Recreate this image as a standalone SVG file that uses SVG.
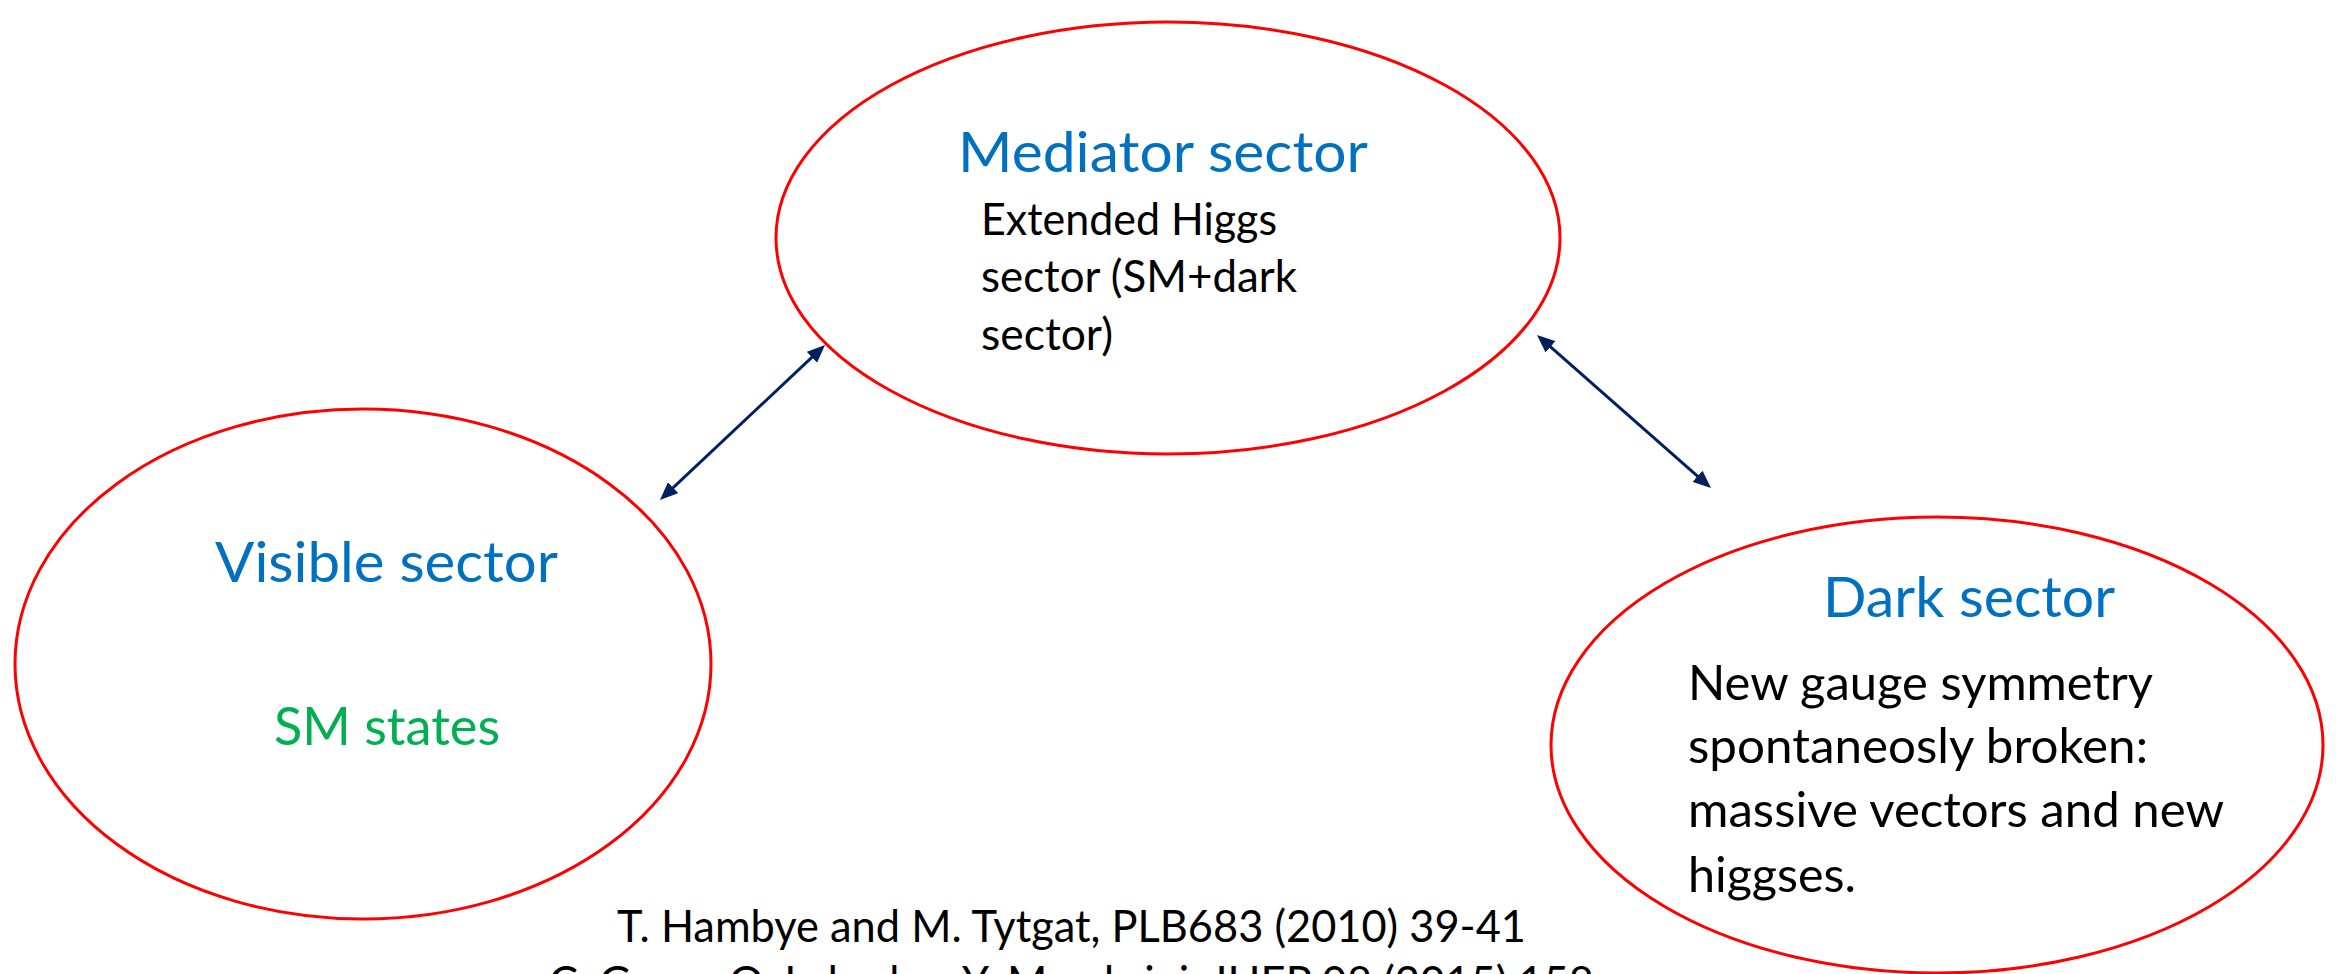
<svg xmlns="http://www.w3.org/2000/svg" width="2336" height="974" viewBox="0 0 2336 974">
  <style>
    .sector { fill: #ffffff; stroke: #ff0000; stroke-width: 3; }
    .title { font-family: "Lato", "Liberation Sans", sans-serif; fill: #0070c0; font-size: 57px; }
    .body { font-family: "Lato", "Liberation Sans", sans-serif; fill: #000000; }
    .green { font-family: "Lato", "Liberation Sans", sans-serif; fill: #00b050; font-size: 52px; }
    .ref { font-family: "Lato", "Liberation Sans", sans-serif; fill: #000000; font-size: 44px; }
    .conn { stroke: #002060; stroke-width: 3; fill: none; marker-start: url(#head); marker-end: url(#head); }
  </style>
  <defs>
    <marker id="head" viewBox="0 0 6 5" refX="2" refY="2.5" markerWidth="6" markerHeight="5" markerUnits="strokeWidth" orient="auto-start-reverse">
      <path d="M0,0 L6,2.5 L0,5 z" fill="#002060"/>
    </marker>
  </defs>
  <rect width="2336" height="974" fill="#ffffff"/>

  <g id="visible-sector">
    <ellipse class="sector" cx="363" cy="664" rx="348" ry="255"/>
    <text class="title" x="215" y="582" textLength="343" lengthAdjust="spacingAndGlyphs">Visible sector</text>
    <text class="green" x="274" y="745" textLength="226" lengthAdjust="spacingAndGlyphs">SM states</text>
  </g>

  <g id="mediator-sector">
    <ellipse class="sector" cx="1168" cy="238" rx="392" ry="216"/>
    <text class="title" x="958" y="172" textLength="410" lengthAdjust="spacingAndGlyphs">Mediator sector</text>
    <g class="body" font-size="44">
      <text x="981" y="235" textLength="296" lengthAdjust="spacingAndGlyphs">Extended Higgs</text>
      <text x="981" y="292" textLength="316" lengthAdjust="spacingAndGlyphs">sector (SM+dark</text>
      <text x="981" y="350" textLength="132" lengthAdjust="spacingAndGlyphs">sector)</text>
    </g>
  </g>

  <g id="dark-sector">
    <ellipse class="sector" cx="1937" cy="745" rx="386" ry="228"/>
    <text class="title" x="1823" y="617" textLength="292" lengthAdjust="spacingAndGlyphs">Dark sector</text>
    <g class="body" font-size="49">
      <text x="1688" y="700" textLength="465" lengthAdjust="spacingAndGlyphs">New gauge symmetry</text>
      <text x="1688" y="763" textLength="460" lengthAdjust="spacingAndGlyphs">spontaneosly broken:</text>
      <text x="1688" y="827" textLength="536" lengthAdjust="spacingAndGlyphs">massive vectors and new</text>
      <text x="1688" y="892" textLength="168" lengthAdjust="spacingAndGlyphs">higgses.</text>
    </g>
  </g>

  <g id="connectors">
    <path class="conn" d="M668.7,491.8 L816.3,353.2"/>
    <path class="conn" d="M1546,342.9 L1702,480.1"/>
  </g>

  <g id="references">
    <text class="ref" x="617" y="942" textLength="909" lengthAdjust="spacingAndGlyphs">T. Hambye and M. Tytgat, PLB683 (2010) 39-41</text>
    <text class="ref" x="549" y="998" textLength="1045" lengthAdjust="spacingAndGlyphs">C. Gross, O. Lebedev, Y. Mambrini, JHEP 08 (2015) 158</text>
  </g>
</svg>
